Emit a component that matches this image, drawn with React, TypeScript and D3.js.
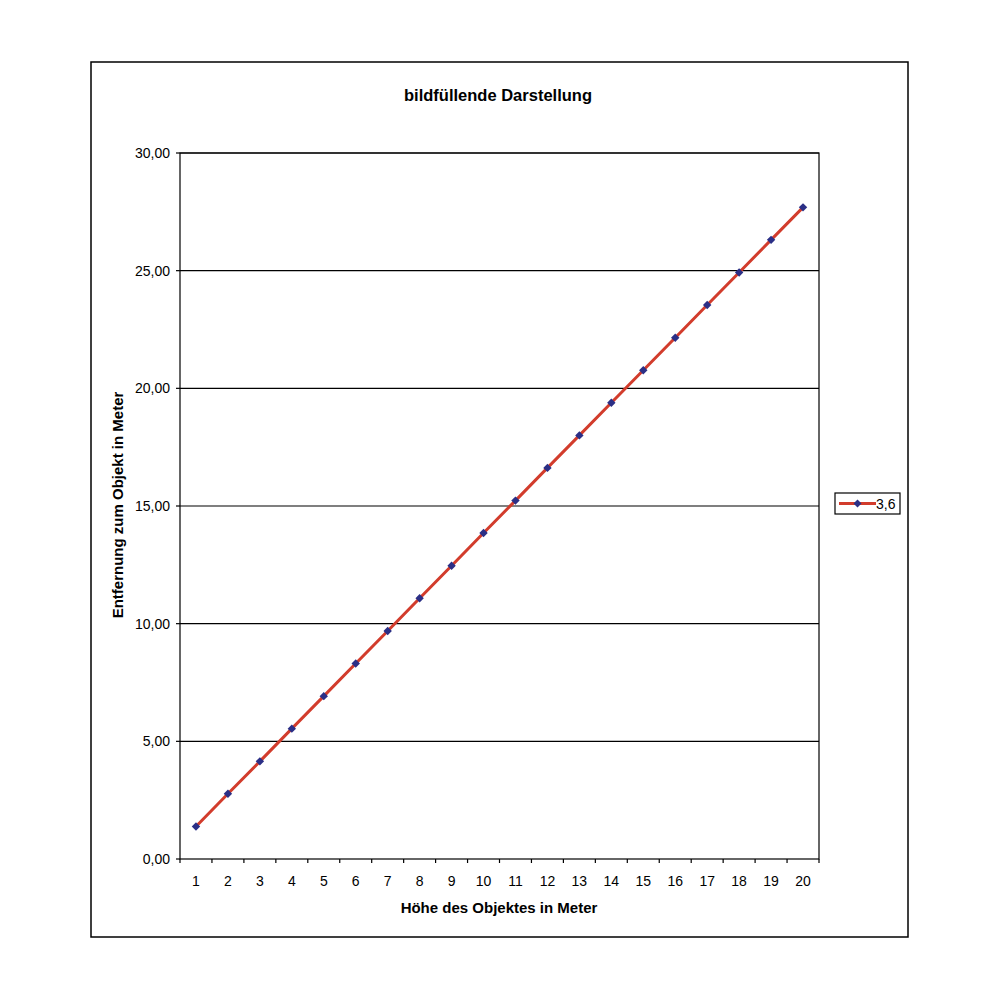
import React from "react";
import * as d3 from "d3";

const categories = ["1","2","3","4","5","6","7","8","9","10","11","12","13","14","15","16","17","18","19","20"];
const values = [1.38, 2.77, 4.15, 5.54, 6.92, 8.31, 9.69, 11.08, 12.46, 13.85, 15.23, 16.62, 18.0, 19.39, 20.77, 22.15, 23.54, 24.92, 26.31, 27.69];
const yTicks = [0, 5, 10, 15, 20, 25, 30];
const seriesName = "3,6";
const title = "bildfüllende Darstellung";
const xTitle = "Höhe des Objektes in Meter";
const yTitle = "Entfernung zum Objekt in Meter";

export default function App() {
  const W = 1000, H = 1000;
  const left = 180, right = 819, top = 153, bottom = 859;
  const x = d3.scaleBand<string>().domain(categories).range([left, right]).padding(0);
  const y = d3.scaleLinear().domain([0, 30]).range([bottom, top]);
  const fmt = (v: number) => v.toFixed(2).replace(".", ",");
  const line = d3.line<number>()
    .x((_, i) => (x(categories[i]) as number) + x.bandwidth() / 2)
    .y((d) => y(d));
  const font = "'Liberation Sans', Arial, sans-serif";
  const diamond = (cx: number, cy: number, r: number) =>
    `M${cx},${cy - r}L${cx + r},${cy}L${cx},${cy + r}L${cx - r},${cy}Z`;
  const boundaries = [...categories.map((c) => x(c) as number), right];
  return (
    <svg width={W} height={H} style={{ position: "absolute", left: 0, top: 0, background: "#fff" }}>
      <rect x={0} y={0} width={W} height={H} fill="#fff" />
      <rect x={91} y={62} width={817} height={875} fill="none" stroke="#000" strokeWidth={1.5} />
      <text x={498} y={101} textAnchor="middle" fontFamily={font} fontWeight="bold" fontSize={16.5}>{title}</text>
      {yTicks.slice(1).map((t) => (
        <line key={"g" + t} x1={left} x2={right} y1={y(t)} y2={y(t)} stroke="#000" strokeWidth={1.2} />
      ))}
      <rect x={left} y={top} width={right - left} height={bottom - top} fill="none" stroke="#000" strokeWidth={1.2} />
      {yTicks.map((t) => (
        <g key={"yt" + t}>
          <line x1={left - 4} x2={left} y1={y(t)} y2={y(t)} stroke="#000" strokeWidth={1.2} />
          <text x={left - 10} y={y(t) + 5} textAnchor="end" fontFamily={font} fontSize={14}>{fmt(t)}</text>
        </g>
      ))}
      {boundaries.map((b, i) => (
        <line key={"xt" + i} x1={b} x2={b} y1={bottom} y2={bottom + 4} stroke="#000" strokeWidth={1.2} />
      ))}
      {categories.map((c) => (
        <text key={"xl" + c} x={(x(c) as number) + x.bandwidth() / 2} y={bottom + 27} textAnchor="middle" fontFamily={font} fontSize={14}>{c}</text>
      ))}
      <text x={499} y={913} textAnchor="middle" fontFamily={font} fontWeight="bold" fontSize={15}>{xTitle}</text>
      <text transform={`translate(123,505) rotate(-90)`} textAnchor="middle" fontFamily={font} fontWeight="bold" fontSize={15}>{yTitle}</text>
      <path d={line(values) || ""} fill="none" stroke="#d23c2c" strokeWidth={3} />
      {values.map((v, i) => (
        <path key={"m" + i} d={diamond((x(categories[i]) as number) + x.bandwidth() / 2, y(v), 4.2)} fill="#2b2f86" />
      ))}
      <rect x={835} y={493} width={65} height={21} fill="#fff" stroke="#000" strokeWidth={1.2} />
      <line x1={839} x2={876} y1={503.5} y2={503.5} stroke="#d23c2c" strokeWidth={3} />
      <path d={diamond(857.5, 503.5, 4)} fill="#2b2f86" />
      <text x={876} y={509} fontFamily={font} fontSize={14}>{seriesName}</text>
    </svg>
  );
}
